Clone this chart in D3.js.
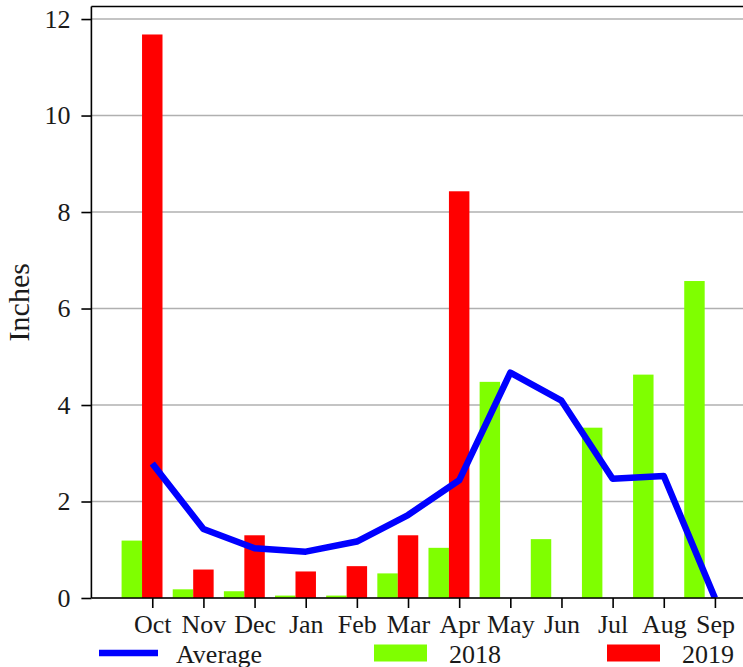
<!doctype html>
<html>
<head>
  <meta charset="utf-8">
  <script src="https://d3js.org/d3.v7.min.js"></script>
  <style>
    body { margin: 0; background: #fff; }
    svg { display: block; }
    text { font-family: "Liberation Serif", "DejaVu Serif", serif; fill: #1a1a1a; }
    .grid line { stroke: #b0b0b0; stroke-width: 1.5; }
    .axis path, .axis line { stroke: #000; stroke-width: 1.6; }
    .axis text { font-size: 26px; }
  </style>
</head>
<body>
<script>
  var months = ["Oct", "Nov", "Dec", "Jan", "Feb", "Mar", "Apr", "May", "Jun", "Jul", "Aug", "Sep"];
  var rain2018 = [1.19, 0.18, 0.14, 0.05, 0.05, 0.51, 1.04, 4.48, 1.22, 3.53, 4.63, 6.57];
  var rain2019 = [11.68, 0.59, 1.30, 0.55, 0.66, 1.30, 8.43, null, null, null, null, null];
  var average = [2.79, 1.43, 1.03, 0.96, 1.17, 1.72, 2.44, 4.67, 4.09, 2.47, 2.53, 0];
  var yTicks = [0, 2, 4, 6, 8, 10, 12];

  var width = 743, height = 667;
  var barW = 0.4;

  var svg = d3.select("body").append("svg")
    .attr("width", width)
    .attr("height", height);

  // x in "month index" units, matplotlib-ish 5% margins
  var x = d3.scaleLinear()
    .domain([-1.19, 11.79])
    .range([91.4, 91.4 + 12.98 * 51.15]);

  var y = d3.scaleLinear()
    .domain([0, 12.26])
    .range([598, 6.5]);

  var plotLeft = x.range()[0], plotRight = x.range()[1];

  svg.append("defs").append("clipPath").attr("id", "plot")
    .append("rect")
    .attr("x", plotLeft).attr("y", y.range()[1])
    .attr("width", plotRight - plotLeft)
    .attr("height", y.range()[0] - y.range()[1]);

  // grid
  svg.append("g").classed("grid", true)
    .selectAll("line").data(yTicks).enter().append("line")
    .attr("x1", plotLeft).attr("x2", plotRight)
    .attr("y1", function (d) { return y(d); })
    .attr("y2", function (d) { return y(d); });

  var plot = svg.append("g").attr("clip-path", "url(#plot)");

  plot.selectAll("rect.b2018").data(rain2018).enter().append("rect")
    .classed("b2018", true)
    .attr("x", function (d, i) { return x(i - barW * 1.5); })
    .attr("width", x(barW) - x(0))
    .attr("y", function (d) { return y(d); })
    .attr("height", function (d) { return y(0) - y(d); })
    .attr("fill", "#7fff00");

  plot.selectAll("rect.b2019").data(rain2019.filter(function (d) { return d != null; }))
    .enter().append("rect")
    .classed("b2019", true)
    .attr("x", function (d, i) { return x(i - barW / 2); })
    .attr("width", x(barW) - x(0))
    .attr("y", function (d) { return y(d); })
    .attr("height", function (d) { return y(0) - y(d); })
    .attr("fill", "#ff0000");

  var line = d3.line()
    .x(function (d, i) { return x(i); })
    .y(function (d) { return y(d); });

  plot.append("path")
    .datum(average)
    .attr("d", line)
    .attr("fill", "none")
    .attr("stroke", "#0000ff")
    .attr("stroke-width", 6.5)
    .attr("stroke-linejoin", "round");

  // axes
  var yAxis = d3.axisLeft(y)
    .tickValues(yTicks)
    .tickSize(10)
    .tickPadding(11)
    .tickFormat(d3.format("d"));

  svg.append("g").classed("axis", true)
    .attr("transform", "translate(" + plotLeft + ",0)")
    .call(yAxis)
    .call(function (g) { g.select(".domain").remove(); });

  var xAxis = d3.axisBottom(x)
    .tickValues(d3.range(months.length))
    .tickSize(10)
    .tickPadding(7)
    .tickFormat(function (i) { return months[i]; });

  svg.append("g").classed("axis", true)
    .attr("transform", "translate(0," + y(0) + ")")
    .call(xAxis)
    .call(function (g) { g.select(".domain").remove(); });

  // spines
  var spines = svg.append("g").attr("stroke", "#000").attr("stroke-width", 1.6);
  spines.append("line").attr("x1", plotLeft).attr("x2", plotLeft)
    .attr("y1", y.range()[0]).attr("y2", y.range()[1]);
  spines.append("line").attr("x1", plotLeft).attr("x2", plotRight)
    .attr("y1", y.range()[0]).attr("y2", y.range()[0]);
  spines.append("line").attr("x1", plotLeft).attr("x2", plotRight)
    .attr("y1", y.range()[1]).attr("y2", y.range()[1]);
  spines.append("line").attr("x1", plotRight).attr("x2", plotRight)
    .attr("y1", y.range()[0]).attr("y2", y.range()[1]);

  svg.append("text")
    .attr("transform", "translate(29," + (y.range()[0] + y.range()[1]) / 2 + ") rotate(-90)")
    .attr("text-anchor", "middle")
    .style("font-size", "30px")
    .text("Inches");

  // legend
  var legendItems = [
    { label: "Average", color: "#0000ff", kind: "line", x: 99 },
    { label: "2018", color: "#7fff00", kind: "patch", x: 374 },
    { label: "2019", color: "#ff0000", kind: "patch", x: 607 }
  ];
  var legend = svg.append("g").selectAll("g").data(legendItems).enter().append("g")
    .attr("transform", function (d) { return "translate(" + d.x + ",653)"; });

  legend.filter(function (d) { return d.kind === "line"; }).append("line")
    .attr("x1", 0).attr("x2", 59)
    .attr("stroke", function (d) { return d.color; })
    .attr("stroke-width", 6.5);
  legend.filter(function (d) { return d.kind === "patch"; }).append("rect")
    .attr("x", 0).attr("y", -8.5).attr("width", 53).attr("height", 17)
    .attr("fill", function (d) { return d.color; });
  legend.append("text")
    .attr("x", function (d) { return d.kind === "line" ? 77 : 75; })
    .attr("y", 9.5)
    .style("font-size", "26px")
    .text(function (d) { return d.label; });
</script>
</body>
</html>
